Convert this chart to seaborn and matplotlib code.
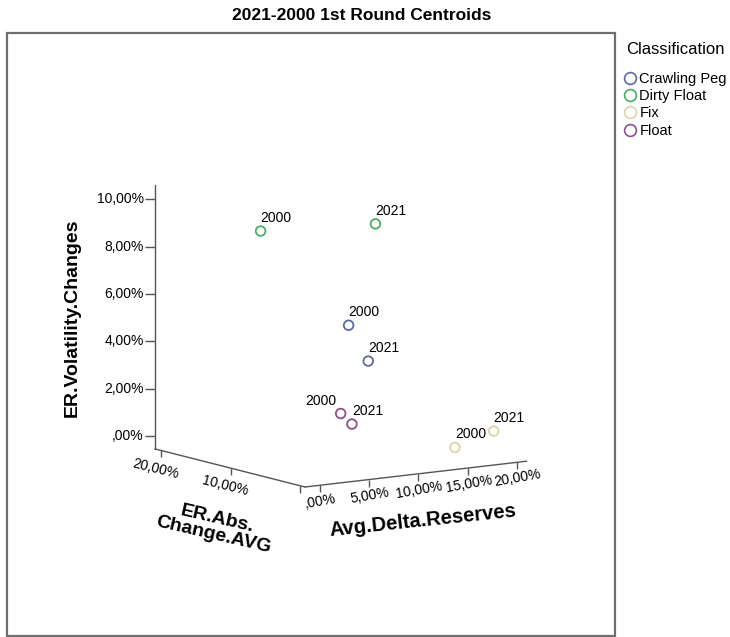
import numpy as np
import pandas as pd
import matplotlib
matplotlib.use('Agg')
import matplotlib.pyplot as plt
import seaborn as sns
from matplotlib.lines import Line2D
from matplotlib.patches import Rectangle
from mpl_toolkits.mplot3d import proj3d

# centroids (all in %)
classes = ['Crawling Peg', 'Dirty Float', 'Fix', 'Float']
point_class = ['Crawling Peg', 'Crawling Peg', 'Dirty Float', 'Dirty Float',
               'Fix', 'Fix', 'Float', 'Float']
point_year = ['2000', '2021', '2000', '2021', '2000', '2021', '2000', '2021']
er_abs_change = [4.0, 4.0, 8.0, 8.0, 1.0, 1.0, 5.0, 5.0]
delta_reserves = [6.24, 8.23, 0.13, 11.78, 14.91, 18.85, 6.14, 7.28]
volatility = [5.56, 3.95, 9.54, 9.28, 0.20, 0.70, 1.76, 1.26]
label_ha = ['left', 'left', 'left', 'left', 'left', 'left', 'right', 'left']

er_ticks = [0, 10, 20]
delta_ticks = [0, 5, 10, 15, 20]
vol_ticks = [0, 2, 4, 6, 8, 10]

df = pd.DataFrame({'Classification': point_class, 'Year': point_year,
                   'ER': er_abs_change, 'Delta': delta_reserves, 'Vol': volatility})

sns.set_style('white')
plt.rcParams['font.family'] = ['Liberation Sans', 'DejaVu Sans']
plt.rcParams['text.color'] = 'black'
palette = dict(zip(classes, sns.color_palette(['#5a6aa6', '#4aae62', '#d9d5a6', '#8b4f8b'])))
axis_color = '#555555'


def fmt(v):
    s = f'{v:.2f}'.replace('.', ',')
    if s.startswith('0,'):
        s = s[1:]
    return s + '%'


fig = plt.figure(figsize=(7.30, 6.37), dpi=100)
W, H = fig.get_size_inches() * fig.dpi
ax = fig.add_axes([0.05, 0.05, 0.8 * H / W, 0.8], projection='3d', proj_type='ortho')
ax.set_axis_off()

for cls, sub in df.groupby('Classification'):
    ax.scatter(sub['Delta'], sub['ER'], sub['Vol'], facecolors='none',
               edgecolors=[palette[cls]], s=48, linewidths=1.3, depthshade=False)

x0, x1 = -1.5, 21.0    # Avg.Delta.Reserves
y0, y1 = -0.7, 20.9    # ER.Abs.Change.AVG
z0, z1 = -0.55, 10.6   # ER.Volatility.Changes
ax.set_xlim(x0, x1)
ax.set_ylim(y0, y1)
ax.set_zlim(z0, z1)
ax.set_box_aspect((1, 1, 1))
ax.view_init(elev=9.9, azim=-124.1)

# the three SPSS style axes
ax.plot([x0, x0], [y0, y1], [z0, z0], color=axis_color, lw=1)
ax.plot([x0, x1], [y0, y0], [z0, z0], color=axis_color, lw=1)
ax.plot([x0, x0], [y1, y1], [z0, z1], color=axis_color, lw=1)
ax.plot([x0] * len(er_ticks), er_ticks, [z0] * len(er_ticks), ls='none',
        marker=3, ms=5, mew=1, color=axis_color)
ax.plot(delta_ticks, [y0] * len(delta_ticks), [z0] * len(delta_ticks), ls='none',
        marker=3, ms=5, mew=1, color=axis_color)
ax.plot([x0] * len(vol_ticks), [y1] * len(vol_ticks), vol_ticks, ls='none',
        marker=0, ms=7, mew=1, color=axis_color)


def proj2d(x, y, z):
    px, py, _ = proj3d.proj_transform(np.atleast_1d(np.asarray(x, float)),
                                      np.atleast_1d(np.asarray(y, float)),
                                      np.atleast_1d(np.asarray(z, float)), ax.get_proj())
    return px[0], py[0]


# fit the cube to the reference layout
ta = np.array([305, H - 487])
tb = np.array([155, H - 185])
for _ in range(3):
    fig.canvas.draw()
    pa = ax.transData.transform([proj2d(x0, y0, z0)])[0]
    pb = ax.transData.transform([proj2d(x0, y1, z1)])[0]
    s = np.linalg.norm(tb - ta) / np.linalg.norm(pb - pa)
    bb = ax.get_position()
    c = np.array([(bb.x0 + bb.x1) / 2 * W, (bb.y0 + bb.y1) / 2 * H])
    side = bb.width * W * s
    nc = ta - s * (pa - c)
    ax.set_position([(nc[0] - side / 2) / W, (nc[1] - side / 2) / H, side / W, side / H])


def label_at(x, y, z, text, dx, dy, **kw):
    ax.annotate(text, xy=proj2d(x, y, z), xycoords='data', xytext=(dx, dy),
                textcoords='offset pixels', annotation_clip=False, **kw)


for t in vol_ticks:
    label_at(x0, y1, t, fmt(t), -11, 0, ha='right', va='center', fontsize=10)
for t in er_ticks[1:]:
    label_at(x0, t, z0, fmt(t), -5, -18, ha='center', va='center', rotation=-14, fontsize=10)
for t in delta_ticks:
    label_at(t, y0, z0, fmt(t), 1, -16, ha='center', va='center', rotation=10, fontsize=10)

label_at(x0, 10, z0, 'ER.Abs.\nChange.AVG', -15, -59, ha='center', va='center',
         rotation=-13, fontsize=14, fontweight='bold', linespacing=0.95)
label_at(10, y0, z0, 'Avg.Delta.Reserves', 5, -47, ha='center', va='center',
         rotation=6, fontsize=14.5, fontweight='bold')
label_at(x0, y1, 5, 'ER.Volatility.Changes', -83, 0, ha='center', va='center',
         rotation=90, fontsize=14, fontweight='bold')

for row, ha in zip(df.itertuples(), label_ha):
    dx = 0 if ha == 'left' else -4
    label_at(row.Delta, row.ER, row.Vol, row.Year, dx, 6, ha=ha, va='bottom', fontsize=10)

fig.text(362 / W, 1 - 15 / H, '2021-2000 1st Round Centroids', ha='center', va='center',
         fontsize=12.5, fontweight='bold')
fig.add_artist(Rectangle((7 / W, 1 - 636 / H), 608 / W, 603 / H, transform=fig.transFigure,
                         fill=False, edgecolor='#6e6e6e', lw=1.6))

fig.text(626 / W, 1 - 50 / H, 'Classification', ha='left', va='center', fontsize=12)
handles = [Line2D([], [], ls='none', marker='o', mfc='none', mec=palette[c], ms=8.5, mew=1.2)
           for c in classes]
fig.legend(handles, classes, loc='upper left', bbox_to_anchor=(624 / W, 1 - 72 / H),
           frameon=False, fontsize=10.5, handlelength=0.8, handletextpad=0.25,
           labelspacing=0.22, borderpad=0, borderaxespad=0)

fig.savefig('out.png', dpi=100)
